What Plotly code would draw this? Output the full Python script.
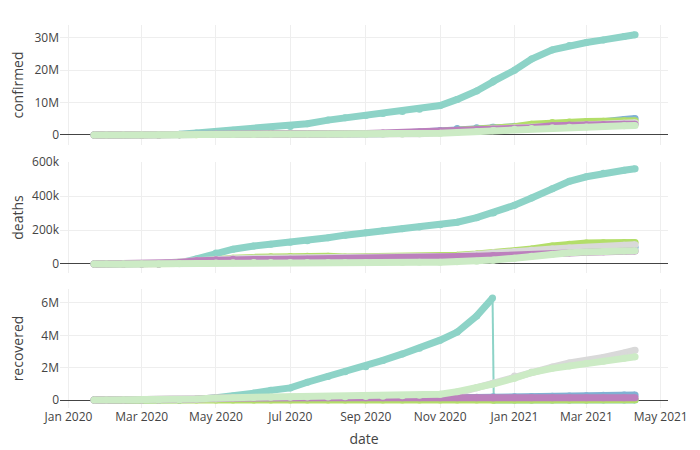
import plotly.graph_objects as go
from plotly.subplots import make_subplots

dates = [
    "2020-01-22", "2020-02-01", "2020-02-15", "2020-03-01", "2020-03-15", "2020-04-01",
    "2020-04-15", "2020-05-01", "2020-05-15", "2020-06-01", "2020-06-15", "2020-07-01",
    "2020-07-15", "2020-08-01", "2020-08-15", "2020-09-01", "2020-09-15", "2020-10-01",
    "2020-10-15", "2020-11-01", "2020-11-15", "2020-12-01", "2020-12-14", "2020-12-15",
    "2021-01-01", "2021-01-15", "2021-02-01", "2021-02-15", "2021-03-01", "2021-03-15",
    "2021-04-01", "2021-04-10",
]

countries = ["US", "France", "United Kingdom", "Italy", "Spain", "Germany"]
colors = ["#8DD3C7", "#80B1D3", "#B3DE69", "#D9D9D9", "#BC80BD", "#CCEBC5"]

# confirmed, millions
confirmed_us = [0, 0, 0, 0, 0.003, 0.21, 0.64, 1.1, 1.45, 1.8, 2.1, 2.65, 3.5, 4.6, 5.3, 6.0,
                6.6, 7.25, 7.95, 9.1, 11.0, 13.6, 16.4, 16.65, 20.0, 23.5, 26.3, 27.7, 28.6,
                29.4, 30.45, 31.0]
confirmed_france = [0, 0, 0, 0, 0.005, 0.057, 0.13, 0.168, 0.179, 0.189, 0.194, 0.202, 0.21,
                    0.225, 0.25, 0.31, 0.4, 0.58, 0.85, 1.4, 1.98, 2.22, 2.39, 2.4, 2.7, 2.95,
                    3.27, 3.5, 3.78, 4.1, 4.8, 5.1]
confirmed_uk = [0, 0, 0, 0, 0.001, 0.03, 0.1, 0.18, 0.24, 0.28, 0.3, 0.31, 0.29, 0.3, 0.32, 0.34,
                0.38, 0.47, 0.68, 1.03, 1.37, 1.65, 1.87, 1.89, 2.54, 3.33, 3.85, 4.04, 4.19,
                4.27, 4.36, 4.38]
confirmed_italy = [0, 0, 0, 0.0017, 0.025, 0.11, 0.165, 0.207, 0.224, 0.233, 0.237, 0.241, 0.244,
                   0.248, 0.253, 0.27, 0.29, 0.315, 0.39, 0.68, 1.18, 1.62, 1.86, 1.87, 2.13,
                   2.37, 2.55, 2.74, 2.93, 3.24, 3.63, 3.77]
confirmed_spain = [0, 0, 0, 0.0001, 0.008, 0.104, 0.18, 0.215, 0.23, 0.24, 0.244, 0.25, 0.26,
                   0.29, 0.34, 0.46, 0.62, 0.77, 0.94, 1.19, 1.46, 1.66, 1.75, 1.76, 1.93, 2.25,
                   2.82, 3.06, 3.19, 3.21, 3.3, 3.34]
confirmed_germany = [0, 0, 0, 0.0001, 0.006, 0.077, 0.134, 0.164, 0.175, 0.183, 0.188, 0.196,
                     0.2, 0.21, 0.225, 0.245, 0.265, 0.295, 0.35, 0.53, 0.79, 1.07, 1.34, 1.36,
                     1.76, 2.03, 2.24, 2.35, 2.45, 2.58, 2.87, 2.96]

# deaths, thousands
deaths_us = [0, 0, 0, 0.001, 0.07, 5, 30, 65, 87, 106, 116, 128, 137, 155, 170, 184, 196, 207,
             218, 231, 246, 273, 300, 302, 346, 389, 443, 487, 514, 535, 552, 561]
deaths_france = [0, 0, 0, 0.002, 0.1, 4, 17, 24.4, 27.5, 28.8, 29.4, 29.8, 30.1, 30.3, 30.4,
                 30.6, 31.0, 31.9, 33.1, 36.8, 45, 53, 58.5, 59, 64.9, 70, 76.3, 82, 86.9, 91,
                 95.6, 98]
deaths_uk = [0, 0, 0, 0, 0.02, 2.4, 13, 27, 34, 39, 42, 43.9, 45, 46, 41.4, 41.5, 41.7, 42.1,
             43.4, 46.6, 52, 59, 64.5, 65, 74.6, 88, 106.7, 117, 123, 125.6, 126.8, 127.1]
deaths_italy = [0, 0, 0, 0.03, 1.8, 13.2, 21.6, 28, 31.4, 33.4, 34.4, 34.8, 35, 35.1, 35.2, 35.5,
                35.6, 35.9, 36.4, 38.6, 45.7, 55.6, 64.5, 65, 74.2, 81.3, 88.5, 93.6, 97.9,
                102.5, 110.3, 113.9]
deaths_spain = [0, 0, 0, 0, 0.3, 9.4, 18.8, 24.8, 27.3, 27.1, 27.1, 28.4, 28.4, 28.4, 28.6, 29.1,
                30.2, 31.8, 33.8, 35.9, 40.8, 45.1, 48.0, 48.4, 50.8, 53.3, 59.1, 65.4, 69.6,
                72.4, 75.7, 76.4]
deaths_germany = [0, 0, 0, 0, 0.01, 0.9, 3.6, 6.6, 7.9, 8.6, 8.8, 9.0, 9.1, 9.2, 9.2, 9.3, 9.4,
                  9.5, 9.7, 10.5, 12.8, 16.9, 22.5, 22.9, 34.3, 45.4, 57.6, 65.8, 70.1, 73.5,
                  76.6, 78.3]

# recovered, millions
recovered_us = [0, 0, 0, 0, 0, 0.01, 0.04, 0.15, 0.25, 0.43, 0.6, 0.75, 1.1, 1.45, 1.75, 2.05,
                2.45, 2.85, 3.2, 3.7, 4.2, 5.2, 6.3, 0, 0, 0, 0, 0, 0, 0, 0, 0]
recovered_france = [0, 0, 0, 0, 0.001, 0.011, 0.03, 0.05, 0.06, 0.068, 0.072, 0.077, 0.079,
                    0.082, 0.084, 0.087, 0.09, 0.097, 0.104, 0.126, 0.145, 0.17, 0.183, 0.185,
                    0.2, 0.215, 0.235, 0.25, 0.27, 0.29, 0.31, 0.32]
recovered_uk = [0, 0, 0, 0, 0.0001, 0.0001, 0.0003, 0.0004, 0.0005, 0.0006, 0.0013, 0.0014,
                0.0014, 0.0015, 0.0016, 0.0016, 0.0017, 0.0018, 0.0019, 0.0026, 0.0029, 0.0034,
                0.0037, 0.0037, 0.0048, 0.0059, 0.0078, 0.0098, 0.011, 0.012, 0.012, 0.012]
recovered_italy = [0, 0, 0, 0.0001, 0.002, 0.016, 0.038, 0.075, 0.12, 0.16, 0.178, 0.19, 0.198,
                   0.2, 0.204, 0.21, 0.22, 0.23, 0.25, 0.29, 0.43, 0.76, 1.02, 1.05, 1.48, 1.73,
                   2.04, 2.29, 2.44, 2.63, 2.91, 3.08]
recovered_spain = [0, 0, 0, 0, 0.0005, 0.022, 0.07, 0.12, 0.14, 0.15, 0.15, 0.15, 0.15, 0.15,
                   0.15, 0.15, 0.15, 0.15, 0.15, 0.15, 0.15, 0.15, 0.15, 0.15, 0.15, 0.15, 0.15,
                   0.15, 0.15, 0.15, 0.15, 0.15]
recovered_germany = [0, 0, 0, 0, 0.0001, 0.02, 0.07, 0.13, 0.15, 0.165, 0.172, 0.18, 0.185,
                     0.19, 0.2, 0.22, 0.24, 0.26, 0.29, 0.36, 0.52, 0.76, 0.98, 1.0, 1.35, 1.7,
                     1.96, 2.1, 2.27, 2.4, 2.58, 2.67]

metrics = [
    ("confirmed", 1e6, [confirmed_us, confirmed_france, confirmed_uk, confirmed_italy,
                        confirmed_spain, confirmed_germany]),
    ("deaths", 1e3, [deaths_us, deaths_france, deaths_uk, deaths_italy, deaths_spain,
                     deaths_germany]),
    ("recovered", 1e6, [recovered_us, recovered_france, recovered_uk, recovered_italy,
                        recovered_spain, recovered_germany]),
]

fig = make_subplots(rows=3, cols=1, shared_xaxes=True)

THICK = 7
for row, (name, unit, series) in enumerate(metrics, start=1):
    for country, color, vals in zip(countries, colors, series):
        ys = [v * unit for v in vals]
        xs_thick, ys_thick = [], []
        drops = []
        for i, (d, v) in enumerate(zip(dates, ys)):
            if i > 0 and ys[i - 1] > 0 and v < 0.5 * ys[i - 1]:
                xs_thick.append(None)
                ys_thick.append(None)
                drops.append(i)
            xs_thick.append(d)
            ys_thick.append(v)
        fig.add_trace(go.Scatter(
            x=xs_thick, y=ys_thick, mode="lines+markers", name=country,
            line=dict(color=color, width=THICK), marker=dict(color=color, size=THICK),
            showlegend=False, connectgaps=False), row=row, col=1)
        for i in drops:
            fig.add_trace(go.Scatter(
                x=[dates[i - 1], dates[i]], y=[ys[i - 1], ys[i]], mode="lines",
                line=dict(color=color, width=2), showlegend=False), row=row, col=1)

fig.update_layout(
    template="none",
    width=700, height=450,
    margin=dict(l=52, r=40, t=17, b=50),
    font=dict(family="Open Sans, sans-serif", size=12, color="#444"),
    plot_bgcolor="white", paper_bgcolor="white",
    showlegend=False,
)

domains = [[0.6867, 1.0], [0.3525, 0.6423], [0.0, 0.3107]]
yranges = [[-3.1e6, 34.0e6], [-53e3, 601e3], [-0.49e6, 6.86e6]]
ydticks = [10e6, 200e3, 2e6]
for row in range(1, 4):
    fig.update_yaxes(
        domain=domains[row - 1], range=yranges[row - 1], dtick=ydticks[row - 1],
        title_text=metrics[row - 1][0], title_font=dict(size=14), automargin=False,
        showgrid=True, gridcolor="#eee", zeroline=True, zerolinecolor="#444",
        zerolinewidth=1, showline=False, ticks="", row=row, col=1)
    fig.update_xaxes(
        type="date", range=["2019-12-25", "2021-05-07"], dtick="M2", tick0="2020-01-01",
        tickformat="%b %Y", showgrid=True, gridcolor="#eee", zeroline=False, automargin=False,
        showline=False, ticks="", showticklabels=(row == 3), row=row, col=1)

fig.update_xaxes(title_text="date", title_font=dict(size=14), title_standoff=10,
                 automargin=True, row=3, col=1)

fig.write_html("out.html")
